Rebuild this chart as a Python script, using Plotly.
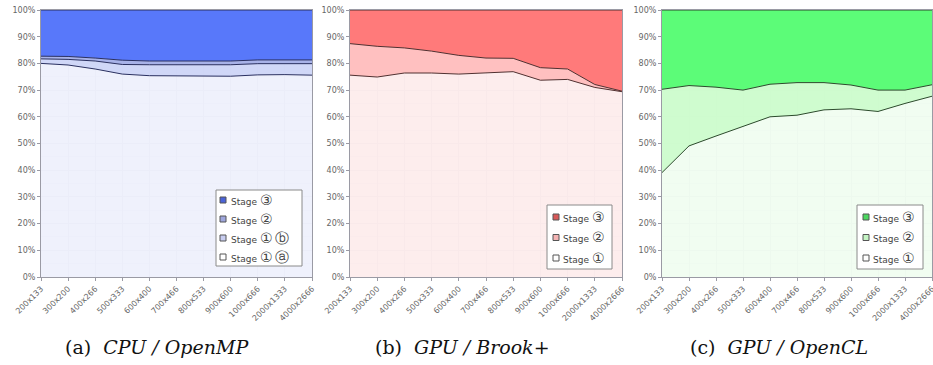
import plotly.graph_objects as go

# Image sizes on the x axis (shared by all three panels)
sizes = ["200x133", "300x200", "400x266", "500x333", "600x400", "700x466",
         "800x533", "900x600", "1000x666", "2000x1333", "4000x2666"]

# (a) CPU / OpenMP - share of run time per stage, in %
cpu_stage1a = [80.0, 79.4, 77.9, 76.0, 75.4, 75.3, 75.1, 75.2, 75.7, 75.8, 75.6]
cpu_stage1b = [1.7, 2.1, 3.0, 3.6, 4.1, 4.2, 4.4, 4.3, 4.2, 4.1, 4.3]
cpu_stage2 = [1.0, 1.1, 1.1, 1.6, 1.4, 1.4, 1.4, 1.4, 1.4, 1.4, 1.4]
cpu_stage3 = [17.3, 17.4, 18.0, 18.8, 19.1, 19.1, 19.1, 19.1, 18.7, 18.7, 18.7]

# (b) GPU / Brook+
brook_stage1 = [75.6, 74.9, 76.4, 76.4, 76.0, 76.4, 76.9, 73.7, 74.0, 71.0, 69.4]
brook_stage2 = [11.8, 11.5, 9.4, 8.2, 7.0, 5.6, 5.0, 4.7, 3.9, 1.1, 0.2]
brook_stage3 = [12.6, 13.6, 14.2, 15.4, 17.0, 18.0, 18.1, 21.6, 22.1, 27.9, 30.4]

# (c) GPU / OpenCL
ocl_stage1 = [39.1, 49.1, 52.8, 56.3, 60.0, 60.6, 62.6, 63.0, 62.0, 65.0, 67.7]
ocl_stage2 = [31.2, 22.6, 18.3, 13.7, 12.2, 12.2, 10.2, 8.9, 8.0, 5.0, 4.3]
ocl_stage3 = [29.7, 28.3, 28.9, 30.0, 27.8, 27.2, 27.2, 28.1, 30.0, 30.0, 28.0]

captions = ["(a)&nbsp; <i>CPU / OpenMP</i>", "(b)&nbsp; <i>GPU / Brook+</i>",
            "(c)&nbsp; <i>GPU / OpenCL</i>"]


def circ(ch):
    return ('<span style="font-size:14px;font-family:\'DejaVu Sans\';color:#444444">'
            + ch + '</span>')


# each series: legend label, values, area fill, legend swatch colour
panels = [
    dict(series=[("Stage " + circ("①") + " " + circ("ⓐ"), cpu_stage1a, "rgba(236,238,252,0.85)", "#ffffff"),
                 ("Stage " + circ("①") + " " + circ("ⓑ"), cpu_stage1b, "rgba(206,213,247,0.95)", "#c8cdf0"),
                 ("Stage " + circ("②"), cpu_stage2, "rgba(168,178,232,1)", "#9ea6dd"),
                 ("Stage " + circ("③"), cpu_stage3, "rgba(88,120,250,1)", "#4a63d8")],
         line="#2a3060", domain=[41, 312],
         legend=dict(box=(216, 190, 302, 266), first=200, step=19, sw=223, tx=229)),
    dict(series=[("Stage " + circ("①"), brook_stage1, "rgba(253,234,234,0.85)", "#ffffff"),
                 ("Stage " + circ("②"), brook_stage2, "rgba(255,192,192,1)", "#f4b4b4"),
                 ("Stage " + circ("③"), brook_stage3, "rgba(255,122,122,1)", "#d85858")],
         line="#503030", domain=[350, 622],
         legend=dict(box=(547, 205, 612, 269), first=217, step=20.5, sw=556, tx=561)),
    dict(series=[("Stage " + circ("①"), ocl_stage1, "rgba(238,253,238,0.85)", "#ffffff"),
                 ("Stage " + circ("②"), ocl_stage2, "rgba(204,252,204,0.95)", "#c4f4c4"),
                 ("Stage " + circ("③"), ocl_stage3, "rgba(92,252,120,1)", "#4cd860")],
         line="#2c4a2c", domain=[662, 932],
         legend=dict(box=(857, 205, 923, 269), first=217, step=20.5, sw=866, tx=871)),
]

W, H = 933, 365
y_top, y_bottom = 10, 277


def px(x):
    return x / W


def py(y):
    return (H - y) / H


fig = go.Figure()
layout = dict(
    width=W, height=H,
    margin=dict(l=0, r=0, t=0, b=0, autoexpand=False),
    paper_bgcolor="white", plot_bgcolor="white",
    font=dict(family="DejaVu Sans", size=8, color="#555555"),
    showlegend=False,
)
shapes, annotations = [], []

for i, p in enumerate(panels):
    n = "" if i == 0 else str(i + 1)
    xa, ya = "x" + n, "y" + n
    for name, vals, color, swatch in p["series"]:
        fig.add_trace(go.Scatter(
            x=sizes, y=vals, name=name, mode="lines",
            stackgroup="g" + str(i), fill="tonexty",
            fillcolor=color, line=dict(color=p["line"], width=1),
            xaxis=xa, yaxis=ya, hoverinfo="skip",
        ))
    d0, d1 = p["domain"]
    layout["xaxis" + n] = dict(
        domain=[px(d0), px(d1)], anchor=ya, type="category",
        categoryorder="array", categoryarray=sizes, automargin=False,
        range=[0, len(sizes) - 1], tickangle=-45,
        tickfont=dict(size=8, color="#666666"),
        showgrid=True, gridcolor="#e2e2e8", gridwidth=1,
        showline=True, linecolor="#9a9aa4", mirror=True,
        ticks="outside", ticklen=3, tickcolor="#9a9aa4", zeroline=False,
    )
    layout["yaxis" + n] = dict(
        domain=[py(y_bottom), py(y_top)], anchor=xa,
        range=[0, 100], dtick=10, ticksuffix="%", automargin=False,
        tickfont=dict(size=8, color="#666666"),
        showgrid=True, gridcolor="#e2e2e8", gridwidth=1,
        minor=dict(dtick=5, showgrid=True, gridcolor="#efeff3"),
        showline=True, linecolor="#9a9aa4", mirror=True,
        ticks="outside", ticklen=3, tickcolor="#9a9aa4", zeroline=False,
    )

    # boxed legend in the lower right corner, stage 3 on top
    lg = p["legend"]
    x0, y0, x1, y1 = lg["box"]
    shapes.append(dict(type="rect", xref="paper", yref="paper",
                       x0=px(x0), x1=px(x1), y0=py(y1), y1=py(y0),
                       fillcolor="white", line=dict(color="#8a8a8a", width=1),
                       layer="above"))
    for k, (name, vals, color, swatch) in enumerate(reversed(p["series"])):
        yc = lg["first"] + k * lg["step"]
        shapes.append(dict(type="rect", xref="paper", yref="paper",
                           x0=px(lg["sw"] - 3), x1=px(lg["sw"] + 3),
                           y0=py(yc + 3), y1=py(yc - 3),
                           fillcolor=swatch, line=dict(color="#555555", width=1),
                           layer="above"))
        annotations.append(dict(x=px(lg["tx"]), y=py(yc), xref="paper", yref="paper",
                                xanchor="left", yanchor="middle", showarrow=False,
                                text=name, font=dict(size=9, color="#444444")))

for cx, text in zip([157, 462, 779], captions):
    annotations.append(dict(
        x=px(cx), y=py(347), xref="paper", yref="paper",
        xanchor="center", yanchor="middle", text=text, showarrow=False,
        font=dict(family="DejaVu Serif", size=19, color="#111111"),
    ))

layout["shapes"] = shapes
layout["annotations"] = annotations
fig.update_layout(**layout)

fig.write_html("out.html")
